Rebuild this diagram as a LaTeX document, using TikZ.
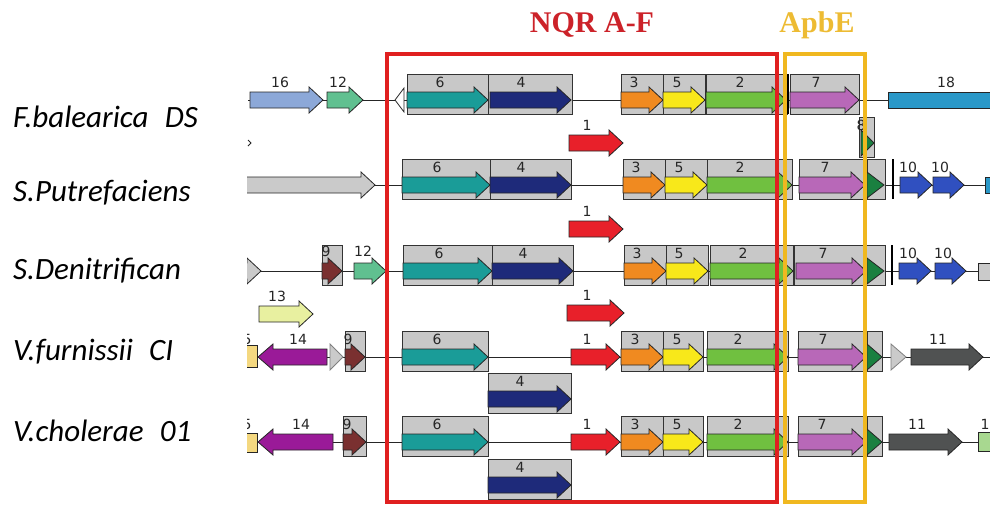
\documentclass[tikz,border=0pt]{standalone}
\usepackage{fontspec}
\setmainfont{Liberation Serif}
\newfontfamily\lblfont{Carlito}
\newfontfamily\numfont{DejaVu Sans}
\definecolor{boxgray}{HTML}{C8C8C8}
\definecolor{cgray}{HTML}{CACACA}
\definecolor{c1}{HTML}{E8202A}
\definecolor{c2}{HTML}{70C040}
\definecolor{c3}{HTML}{F08A20}
\definecolor{c4}{HTML}{1E2A7A}
\definecolor{c5}{HTML}{F8E81A}
\definecolor{c6}{HTML}{1A9C98}
\definecolor{c7}{HTML}{B868B8}
\definecolor{c8}{HTML}{1A8040}
\definecolor{c9}{HTML}{7A3030}
\definecolor{c10}{HTML}{3050C0}
\definecolor{c11}{HTML}{505252}
\definecolor{c12}{HTML}{60C090}
\definecolor{c13}{HTML}{E8F0A0}
\definecolor{c14}{HTML}{9A1A98}
\definecolor{c16}{HTML}{8CA8D8}
\definecolor{c18}{HTML}{2A98C8}
\definecolor{cyel}{HTML}{F4D880}
\definecolor{cgrn}{HTML}{A8D890}
\definecolor{redbox}{HTML}{E02020}
\definecolor{yelbox}{HTML}{F0B820}
\definecolor{titred}{HTML}{CC2229}
\definecolor{titgold}{HTML}{EDBB33}
\tikzset{
  arr/.style={draw=black!85, line width=0.8pt, line join=miter},
  gbox/.style={draw=black!80, fill=boxgray, line width=0.9pt},
  num/.style={font=\numfont\fontsize{14}{14}\selectfont, inner sep=0pt, text=black!85},
  org/.style={font=\lblfont\itshape\fontsize{31}{31}\selectfont, anchor=west, inner sep=0pt},
  bb/.style={draw=black!85, line width=0.8pt},
  bar/.style={draw=black, line width=2.6pt},
  title/.style={font=\bfseries\fontsize{30}{30}\selectfont, inner sep=0pt},
}
\newcommand\garr[4]{\draw[arr, fill=#4] (#1,{#3-8}) -- ({#2-14},{#3-8}) -- ({#2-14},{#3-13}) -- (#2,#3) -- ({#2-14},{#3+13}) -- ({#2-14},{#3+8}) -- (#1,{#3+8}) -- cycle;}
\newcommand\garl[4]{\draw[arr, fill=#4] (#2,{#3-8}) -- ({#1+15},{#3-8}) -- ({#1+15},{#3-13}) -- (#1,#3) -- ({#1+15},{#3+13}) -- ({#1+15},{#3+8}) -- (#2,{#3+8}) -- cycle;}
\newcommand\gtri[4]{\draw[arr, fill=#4] (#1,{#3-13}) -- (#2,#3) -- (#1,{#3+13}) -- cycle;}
\newcommand\gbx[3]{\draw[gbox] (#1,{#3-26}) rectangle (#2,{#3+14});}
\newcommand\glab[4]{\node[num] (#1) at (#2,{#3-18}) {#4};}
\begin{document}
\begin{tikzpicture}[x=1pt,y=-1pt]
\useasboundingbox (0,0) rectangle (990,504);
% titles
\node[title, text=titred] (tnqr) at (592,25) {NQR A-F};
\node[title, text=titgold] (tapbe) at (817,25) {ApbE};
% organism labels
\node[org] (o1) at (13,117) {F.balearica\hspace{0.3em} DS};
\node[org] (o2) at (13,193) {S.Putrefaciens};
\node[org] (o3) at (13,271) {S.Denitrifican};
\node[org] (o4) at (13,352) {V.furnissii\hspace{0.3em} CI};
\node[org] (o5) at (13,431) {V.cholerae\hspace{0.3em} 01};
\begin{scope}
\clip (247,40) rectangle (990,504);
% ---------- row 1 ----------
\draw[bb] (248,100) -- (888,100);
\garr{250}{323}{100}{c16}\glab{l16}{280}{100}{16}
\garr{327}{363}{100}{c12}\glab{l12a}{338}{100}{12}
\draw[arr, fill=white] (404,88) -- (395,100) -- (404,112) -- cycle;
\gbx{407}{488}{100}\garr{407}{488}{100}{c6}\glab{l6a}{440}{100}{6}
\gbx{488}{572}{100}\garr{490}{571}{100}{c4}\glab{l4a}{521}{100}{4}
\gbx{621}{663}{100}\garr{621}{663}{100}{c3}\glab{l3a}{634}{100}{3}
\gbx{663}{705}{100}\garr{663}{705}{100}{c5}\glab{l5a}{677}{100}{5}
\gbx{706}{787}{100}\garr{706}{786}{100}{c2}\glab{l2a}{740}{100}{2}
\draw[bar] (788,74) -- (788,114);
\gbx{790}{859}{100}\garr{790}{859}{100}{c7}\glab{l7a}{816}{100}{7}
\draw[arr, fill=c18] (888,92) rectangle (995,108);
\glab{l18}{946}{100}{18}
% ---------- row 1b ----------
\draw[arr] (248,140) -- (251,143) -- (248,146);
\garr{569}{623}{143}{c1}\glab{l1a}{587}{143}{1}
\gbx{859}{874}{143}\gtri{861}{874}{143}{c8}\glab{l8a}{861}{143}{8}
% ---------- row 2 ----------
\draw[bb] (250,185) -- (985,185);
\garr{240}{375}{185}{cgray}
\gbx{402}{490}{185}\garr{402}{490}{185}{c6}\glab{l6b}{437}{185}{6}
\gbx{490}{571}{185}\garr{490}{571}{185}{c4}\glab{l4b}{521}{185}{4}
\gbx{623}{665}{185}\garr{623}{665}{185}{c3}\glab{l3b}{636}{185}{3}
\gbx{665}{707}{185}\garr{665}{707}{185}{c5}\glab{l5b}{679}{185}{5}
\gbx{707}{792}{185}\garr{707}{792}{185}{c2}\glab{l2b}{740}{185}{2}
\gbx{799}{885}{185}\draw[gbox] (867,159) -- (867,199);
\garr{799}{865}{185}{c7}\gtri{867}{884}{185}{c8}\glab{l7b}{825}{185}{7}
\draw[bar] (893,159) -- (893,199);
\garr{900}{932}{185}{c10}\glab{l10a}{908}{185}{10}
\garr{933}{964}{185}{c10}\glab{l10b}{940}{185}{10}
\draw[arr, fill=c18] (985,177) rectangle (995,193);
% ---------- row 2b ----------
\garr{569}{623}{229}{c1}\glab{l1b}{587}{229}{1}
% ---------- row 3 ----------
\draw[bb] (250,271) -- (978,271);
\garr{200}{261}{271}{cgray}
\gbx{322}{342}{271}\garr{322}{342}{271}{c9}\glab{l9a}{326}{269}{9}
\garr{354}{386}{271}{c12}\glab{l12b}{363}{269}{12}
\gbx{403}{492}{271}\garr{403}{492}{271}{c6}\glab{l6c}{439}{271}{6}
\gbx{492}{573}{271}\garr{492}{573}{271}{c4}\glab{l4c}{523}{271}{4}
\gbx{624}{666}{271}\garr{624}{666}{271}{c3}\glab{l3c}{637}{271}{3}
\gbx{666}{708}{271}\garr{666}{708}{271}{c5}\glab{l5c}{679}{271}{5}
\gbx{710}{793}{271}\garr{710}{793}{271}{c2}\glab{l2c}{743}{271}{2}
\gbx{794}{885}{271}\draw[gbox] (866,245) -- (866,285);
\garr{796}{866}{271}{c7}\gtri{867}{884}{271}{c8}\glab{l7c}{823}{271}{7}
\draw[bar] (892,245) -- (892,285);
\garr{899}{931}{271}{c10}\glab{l10c}{908}{271}{10}
\garr{935}{966}{271}{c10}\glab{l10d}{943}{271}{10}
\draw[arr, fill=cgray] (978,263) rectangle (995,280);
% ---------- row 3b ----------
\garr{259}{313}{314}{c13}\glab{l13}{277}{314}{13}
\garr{567}{624}{313}{c1}\glab{l1c}{587}{313}{1}
% ---------- row 4 ----------
\draw[bb] (250,357) -- (995,357);
\draw[arr, fill=cyel] (240,345) rectangle (257,367);
\glab{l5x}{247}{357}{5}
\garl{258}{327}{357}{c14}\glab{l14a}{298}{357}{14}
\draw[arr, draw=gray, fill=cgray] (330,344) -- (343,357) -- (330,370) -- cycle;
\gbx{345}{365}{357}\garr{345}{365}{357}{c9}\glab{l9b}{348}{357}{9}
\gbx{402}{488}{357}\garr{402}{488}{357}{c6}\glab{l6d}{437}{357}{6}
\garr{571}{620}{357}{c1}\glab{l1d}{587}{357}{1}
\gbx{621}{663}{357}\garr{621}{663}{357}{c3}\glab{l3d}{635}{357}{3}
\gbx{663}{703}{357}\garr{663}{703}{357}{c5}\glab{l5d}{677}{357}{5}
\gbx{707}{788}{357}\garr{707}{788}{357}{c2}\glab{l2d}{738}{357}{2}
\gbx{798}{882}{357}\draw[gbox] (867,331) -- (867,371);
\garr{798}{866}{357}{c7}\gtri{867}{882}{357}{c8}\glab{l7d}{823}{357}{7}
\draw[arr, draw=gray, fill=cgray] (891,344) -- (906,357) -- (891,370) -- cycle;
\garr{911}{983}{357}{c11}\glab{l11a}{938}{357}{11}
% ---------- row 4b ----------
\gbx{488}{571}{399}\garr{488}{571}{399}{c4}\glab{l4d}{520}{399}{4}
% ---------- row 5 ----------
\draw[bb] (257,442) -- (978,442);
\draw[arr, fill=cyel] (240,433) rectangle (257,452);
\glab{l5y}{247}{442}{5}
\garl{258}{333}{442}{c14}\glab{l14b}{301}{442}{14}
\gbx{343}{366}{442}\garr{343}{366}{442}{c9}\glab{l9c}{347}{442}{9}
\gbx{402}{488}{442}\garr{402}{488}{442}{c6}\glab{l6e}{437}{442}{6}
\garr{571}{620}{442}{c1}\glab{l1e}{587}{442}{1}
\gbx{621}{663}{442}\garr{621}{663}{442}{c3}\glab{l3e}{635}{442}{3}
\gbx{663}{703}{442}\garr{663}{703}{442}{c5}\glab{l5e}{677}{442}{5}
\gbx{707}{788}{442}\garr{707}{788}{442}{c2}\glab{l2e}{738}{442}{2}
\gbx{798}{882}{442}\draw[gbox] (867,416) -- (867,456);
\garr{798}{866}{442}{c7}\gtri{867}{882}{442}{c8}\glab{l7e}{822}{442}{7}
\garr{889}{962}{442}{c11}\glab{l11b}{917}{442}{11}
\draw[arr, fill=cgrn] (978,432) rectangle (995,451);
\glab{l1x}{985}{442}{1}
% ---------- row 5b ----------
\gbx{488}{571}{485}\garr{488}{571}{485}{c4}\glab{l4e}{520}{485}{4}
% ---------- frames ----------
\draw[redbox, line width=3.8pt] (387,54) rectangle (777,502);
\draw[yelbox, line width=3.4pt] (785,54) rectangle (865,502);
\end{scope}
\end{tikzpicture}
\end{document}
